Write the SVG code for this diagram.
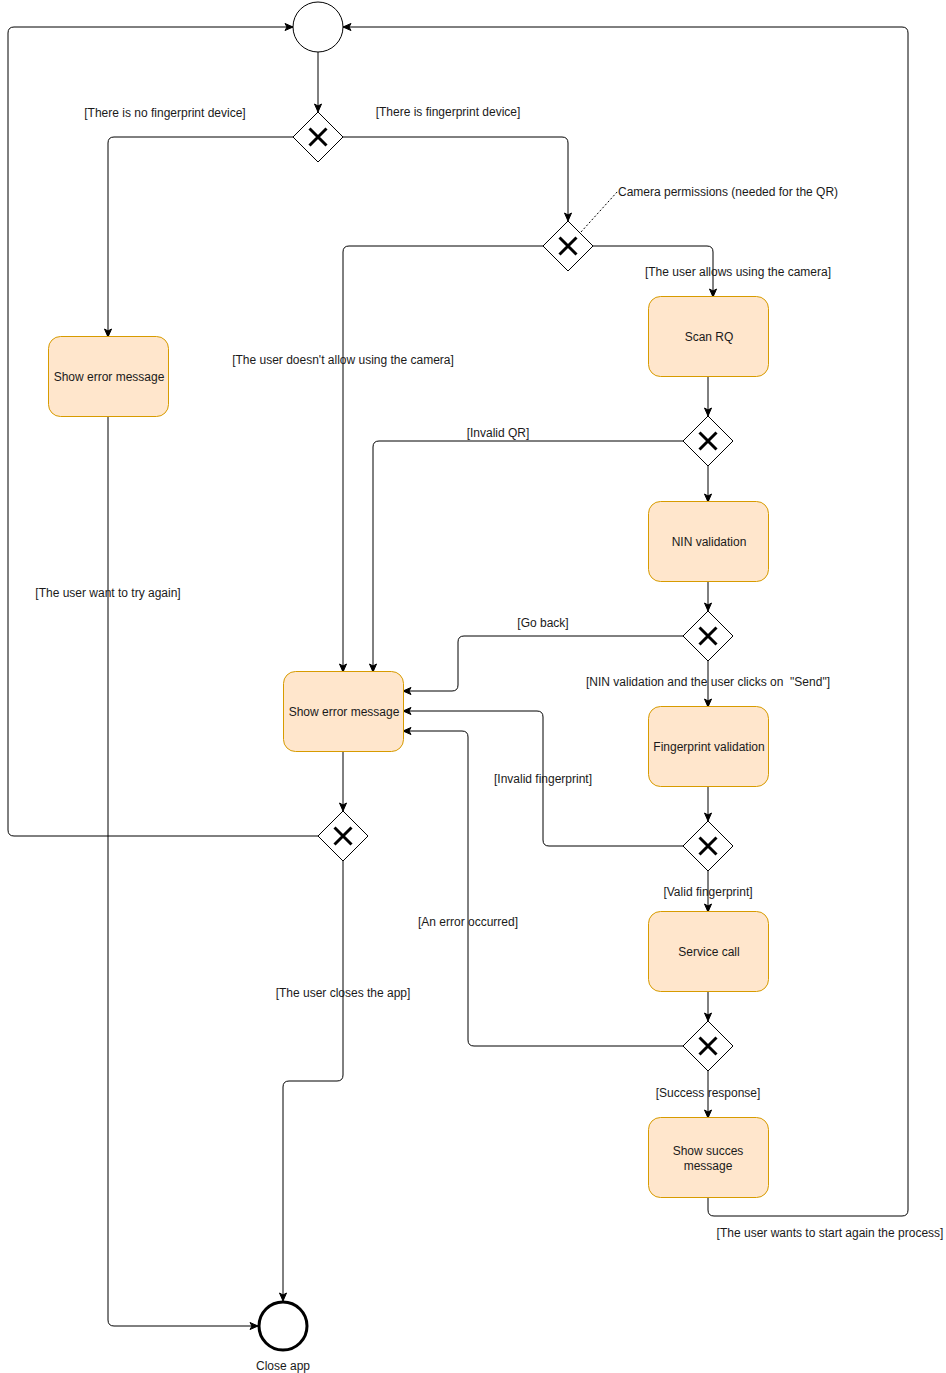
<svg xmlns="http://www.w3.org/2000/svg" width="946" height="1373" viewBox="0 0 946 1373">
<style>
.bg{fill:#fff}
.task{fill:#ffe6cc;stroke:#d79b00;stroke-width:1}
.gw{fill:#fff;stroke:#000;stroke-width:1}
.gx{stroke:#000;stroke-width:3;fill:none}
.ev{fill:#fff;stroke:#000;stroke-width:1}
.end{fill:#fff;stroke:#000;stroke-width:3}
.e{fill:none;stroke:#000;stroke-width:1;marker-end:url(#arr)}
.en{fill:none;stroke:#000;stroke-width:1}
.t{font-family:"Liberation Sans",Arial,sans-serif;font-size:12px;fill:#1a1a1a;text-anchor:middle}
.l{font-family:"Liberation Sans",Arial,sans-serif;font-size:12px;fill:#1a1a1a;text-anchor:middle;white-space:pre}
</style>
<defs>
<marker id="arr" markerUnits="userSpaceOnUse" markerWidth="10" markerHeight="10" viewBox="0 0 10 10" refX="9" refY="5" orient="auto">
<path d="M1,1.5 L9,5 L1,8.5 L3,5 Z" fill="#000" stroke="#000" stroke-width="1"/>
</marker>
</defs>
<rect class="bg" x="0" y="0" width="946" height="1373"/>
<g id="connectors">
<path class="e" d="M318,52 L318,112"/>
<path class="e" d="M293,137 L114,137 Q108,137 108,143 L108,337"/>
<path class="e" d="M343,137 L562,137 Q568,137 568,143 L568,221"/>
<path class="e" d="M593,246 L707,246 Q713,246 713,252 L713,297"/>
<path class="e" d="M543,246 L349,246 Q343,246 343,252 L343,672"/>
<path class="e" d="M708,376 L708,416"/>
<path class="e" d="M683,441 L379,441 Q373,441 373,447 L373,672"/>
<path class="e" d="M708,466 L708,502"/>
<path class="e" d="M708,581 L708,611"/>
<path class="e" d="M683,636 L464,636 Q458,636 458,642 L458,685 Q458,691 452,691 L403,691"/>
<path class="e" d="M708,661 L708,707"/>
<path class="e" d="M708,786 L708,821"/>
<path class="e" d="M683,846 L549,846 Q543,846 543,840 L543,717 Q543,711 537,711 L403,711"/>
<path class="e" d="M708,871 L708,912"/>
<path class="e" d="M708,991 L708,1021"/>
<path class="e" d="M683,1046 L474,1046 Q468,1046 468,1040 L468,737 Q468,731 462,731 L403,731"/>
<path class="e" d="M708,1071 L708,1118"/>
<path class="e" d="M708,1197 L708,1210 Q708,1216 714,1216 L902,1216 Q908,1216 908,1210 L908,33 Q908,27 902,27 L343,27"/>
<path class="e" d="M343,751 L343,811"/>
<path class="e" d="M318,836 L14,836 Q8,836 8,830 L8,33 Q8,27 14,27 L293,27"/>
<path class="e" d="M343,861 L343,1075 Q343,1081 337,1081 L289,1081 Q283,1081 283,1087 L283,1301"/>
<path class="e" d="M108,416 L108,1320 Q108,1326 114,1326 L258,1326"/>
<path class="en" d="M581,232 L618,191" stroke-dasharray="2,2"/>
<text class="l" x="165" y="117">[There is no fingerprint device]</text>
<text class="l" x="448" y="116">[There is fingerprint device]</text>
<text class="l" x="738" y="276">[The user allows using the camera]</text>
<text class="l" x="343" y="364">[The user doesn't allow using the camera]</text>
<text class="l" x="498" y="437">[Invalid QR]</text>
<text class="l" x="543" y="627">[Go back]</text>
<text class="l" x="708" y="686">[NIN validation and the user clicks on  "Send"]</text>
<text class="l" x="543" y="783">[Invalid fingerprint]</text>
<text class="l" x="708" y="896">[Valid fingerprint]</text>
<text class="l" x="468" y="926">[An error occurred]</text>
<text class="l" x="708" y="1097">[Success response]</text>
<text class="l" x="830" y="1237">[The user wants to start again the process]</text>
<text class="l" x="343" y="997">[The user closes the app]</text>
<text class="l" x="108" y="597">[The user want to try again]</text>
</g>
<g id="annotation">
<text class="l" x="618" y="196" style="text-anchor:start">Camera permissions (needed for the QR)</text>
</g>
<g id="start"><circle class="ev" cx="318" cy="27" r="25"/></g>
<g id="gw1"><path class="gw" d="M318,112 L343,137 L318,162 L293,137 Z"/><path class="gx" d="M309.5,128.5 L326.5,145.5 M326.5,128.5 L309.5,145.5"/></g>
<g id="gw2"><path class="gw" d="M568,221 L593,246 L568,271 L543,246 Z"/><path class="gx" d="M559.5,237.5 L576.5,254.5 M576.5,237.5 L559.5,254.5"/></g>
<g id="gw3"><path class="gw" d="M708,416 L733,441 L708,466 L683,441 Z"/><path class="gx" d="M699.5,432.5 L716.5,449.5 M716.5,432.5 L699.5,449.5"/></g>
<g id="gw4"><path class="gw" d="M708,611 L733,636 L708,661 L683,636 Z"/><path class="gx" d="M699.5,627.5 L716.5,644.5 M716.5,627.5 L699.5,644.5"/></g>
<g id="gw5"><path class="gw" d="M708,821 L733,846 L708,871 L683,846 Z"/><path class="gx" d="M699.5,837.5 L716.5,854.5 M716.5,837.5 L699.5,854.5"/></g>
<g id="gw6"><path class="gw" d="M708,1021 L733,1046 L708,1071 L683,1046 Z"/><path class="gx" d="M699.5,1037.5 L716.5,1054.5 M716.5,1037.5 L699.5,1054.5"/></g>
<g id="gw7"><path class="gw" d="M343,811 L368,836 L343,861 L318,836 Z"/><path class="gx" d="M334.5,827.5 L351.5,844.5 M351.5,827.5 L334.5,844.5"/></g>
<g id="err1"><rect class="task" x="48.5" y="336.5" width="120" height="80" rx="12"/><text class="t" x="109" y="381">Show error message</text></g>
<g id="err2"><rect class="task" x="283.5" y="671.5" width="120" height="80" rx="12"/><text class="t" x="344" y="716">Show error message</text></g>
<g id="scan"><rect class="task" x="648.5" y="296.5" width="120" height="80" rx="12"/><text class="t" x="709" y="341">Scan RQ</text></g>
<g id="nin"><rect class="task" x="648.5" y="501.5" width="120" height="80" rx="12"/><text class="t" x="709" y="546">NIN validation</text></g>
<g id="finger"><rect class="task" x="648.5" y="706.5" width="120" height="80" rx="12"/><text class="t" x="709" y="751">Fingerprint validation</text></g>
<g id="service"><rect class="task" x="648.5" y="911.5" width="120" height="80" rx="12"/><text class="t" x="709" y="956">Service call</text></g>
<g id="success"><rect class="task" x="648.5" y="1117.5" width="120" height="80" rx="12"/><text class="t" x="708" y="1155">Show succes</text><text class="t" x="708" y="1170">message</text></g>
<g id="end"><circle class="end" cx="283" cy="1326" r="24"/><text class="l" x="283" y="1370">Close app</text></g>
</svg>
